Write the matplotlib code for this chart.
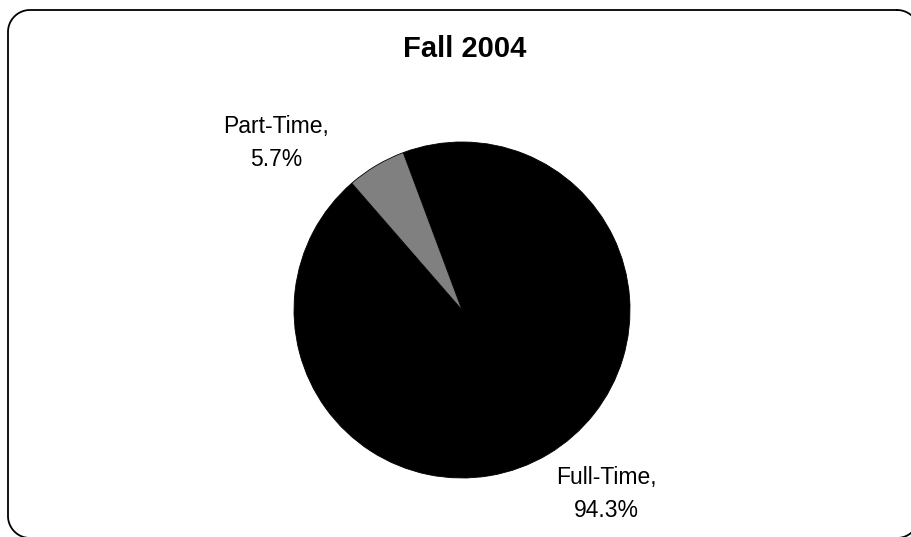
import matplotlib
matplotlib.use("Agg")
import matplotlib.pyplot as plt
import numpy as np

plt.rcParams['font.family'] = ['Liberation Sans', 'DejaVu Sans']

title = "Fall 2004"
categories = ["Full-Time", "Part-Time"]
shares = [94.3, 5.7]
colors = ["#000000", "#808080"]

W, H = 912, 537
fig = plt.figure(figsize=(W / 100, H / 100), dpi=100)

# background axes in pixel units for the rounded chart border
bg = fig.add_axes([0, 0, 1, 1])
bg.set_xlim(0, W)
bg.set_ylim(H, 0)
bg.axis("off")


def rounded_rect(x0, y0, x1, y1, rad, n=30):
    xs, ys = [], []
    corners = [(x1 - rad, y0 + rad, -90, 0), (x1 - rad, y1 - rad, 0, 90),
               (x0 + rad, y1 - rad, 90, 180), (x0 + rad, y0 + rad, 180, 270)]
    for ccx, ccy, a0, a1 in corners:
        t = np.radians(np.linspace(a0, a1, n))
        xs.extend(ccx + rad * np.cos(t))
        ys.extend(ccy + rad * np.sin(t))
    xs.append(xs[0])
    ys.append(ys[0])
    return xs, ys


bx, by = rounded_rect(8, 10, 919, 538, 22)
bg.plot(bx, by, color="black", linewidth=1.3, clip_on=False)

# pie centred at (462, 310) px, radius 168 px
cx, cy, r = 462, 310, 168
ax = fig.add_axes([(cx - r) / W, (H - cy - r) / H, 2 * r / W, 2 * r / H])
ax.pie(shares, colors=colors, startangle=131, counterclock=True,
       wedgeprops=dict(edgecolor="black", linewidth=0.6))
ax.set_xlim(-1, 1)
ax.set_ylim(-1, 1)
ax.set_aspect("equal")
ax.axis("off")

fig.text(465 / W, 1 - 49 / H, title, ha="center", va="center",
         fontsize=21, fontweight="bold")

label_pos = {"Part-Time": (276, 143), "Full-Time": (606, 494)}
for name, val in zip(categories, shares):
    x, y = label_pos[name]
    fig.text(x / W, 1 - y / H, f"{name},\n{val:.1f}%", ha="center", va="center",
             fontsize=16.5, linespacing=1.6)

fig.savefig("out.png", dpi=100)
